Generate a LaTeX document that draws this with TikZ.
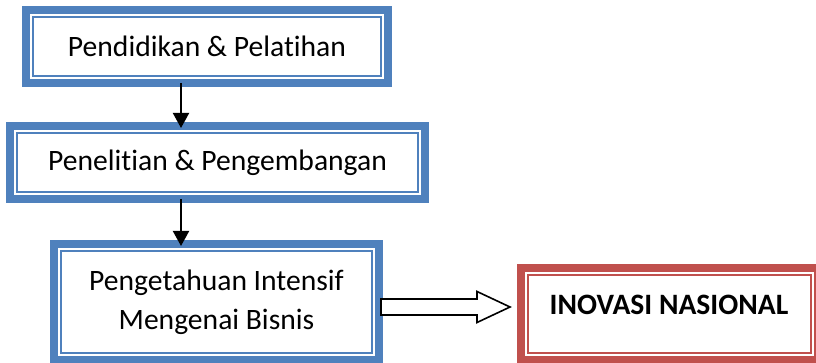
\documentclass[tikz,border=0pt]{standalone}
\usepackage{fontspec}
\setmainfont{Carlito}[Ligatures=NoCommon]
\usetikzlibrary{arrows.meta,calc}
\definecolor{bxblue}{HTML}{4F81BD}
\definecolor{bxred}{HTML}{C0504D}
\tikzset{
  framebox/.style={draw=#1, line width=8pt, rectangle, outer sep=0pt, inner sep=0pt, fill=white,
    align=center, font=\fontsize{29.6}{39}\selectfont},
  innerframe/.style={draw=#1, line width=1.6pt},
  flowarrow/.style={line width=2pt, -{Triangle[length=15pt,width=16pt]}},
  blockarrow/.style={line width=1.6pt, fill=white, line join=miter},
  lbl/.style={font=\fontsize{29.6}{39}\selectfont\bfseries, inner sep=0pt}
}
\begin{document}
\begin{tikzpicture}[x=1pt,y=-1pt]
\useasboundingbox (0,0) rectangle (816,363);
\clip (0,0) rectangle (816,363);
% boxes
\node[framebox=bxblue, minimum width=362pt, minimum height=73pt] (b1) at (207,46.5) {Pendidikan \& Pelatihan};
\draw[innerframe=bxblue] ($(b1.north west)+(7,7)$) rectangle ($(b1.south east)+(-7,-7)$);
\node[framebox=bxblue, minimum width=415pt, minimum height=73pt] (b2) at (217.5,162.5) {Penelitian \& Pengembangan};
\draw[innerframe=bxblue] ($(b2.north west)+(7,7)$) rectangle ($(b2.south east)+(-7,-7)$);
\node[framebox=bxblue, minimum width=325pt, minimum height=116pt] (b3) at (216.5,302) {Pengetahuan Intensif\\Mengenai Bisnis};
\draw[innerframe=bxblue] ($(b3.north west)+(7,7)$) rectangle ($(b3.south east)+(-7,-7)$);
\node[framebox=bxred, minimum width=297pt, minimum height=92pt] (b4) at (669.5,314) {};
\draw[innerframe=bxred] ($(b4.north west)+(7,7)$) rectangle ($(b4.south east)+(-7,-7)$);
\node[lbl, anchor=base] (t4) at (669,314) {INOVASI NASIONAL};
% vertical arrows
\coordinate (ax) at (181,0);
\draw[flowarrow] (b1.south -| ax) -- ($(b2.north -| ax)+(0,2)$);
\draw[flowarrow] (b2.south -| ax) -- ($(b3.north -| ax)+(0,2)$);
% block arrow
\coordinate (as) at ($(b3.east)+(2,5)$);
\coordinate (ae) at ($(b4.west |- as)+(-11,0)$);
\draw[blockarrow] ($(as)+(0,-8)$) -- ($(as)+(96,-8)$) -- ($(as)+(96,-15.5)$) -- (ae)
  -- ($(as)+(96,15.5)$) -- ($(as)+(96,8)$) -- ($(as)+(0,8)$) -- cycle;
\end{tikzpicture}
\end{document}
